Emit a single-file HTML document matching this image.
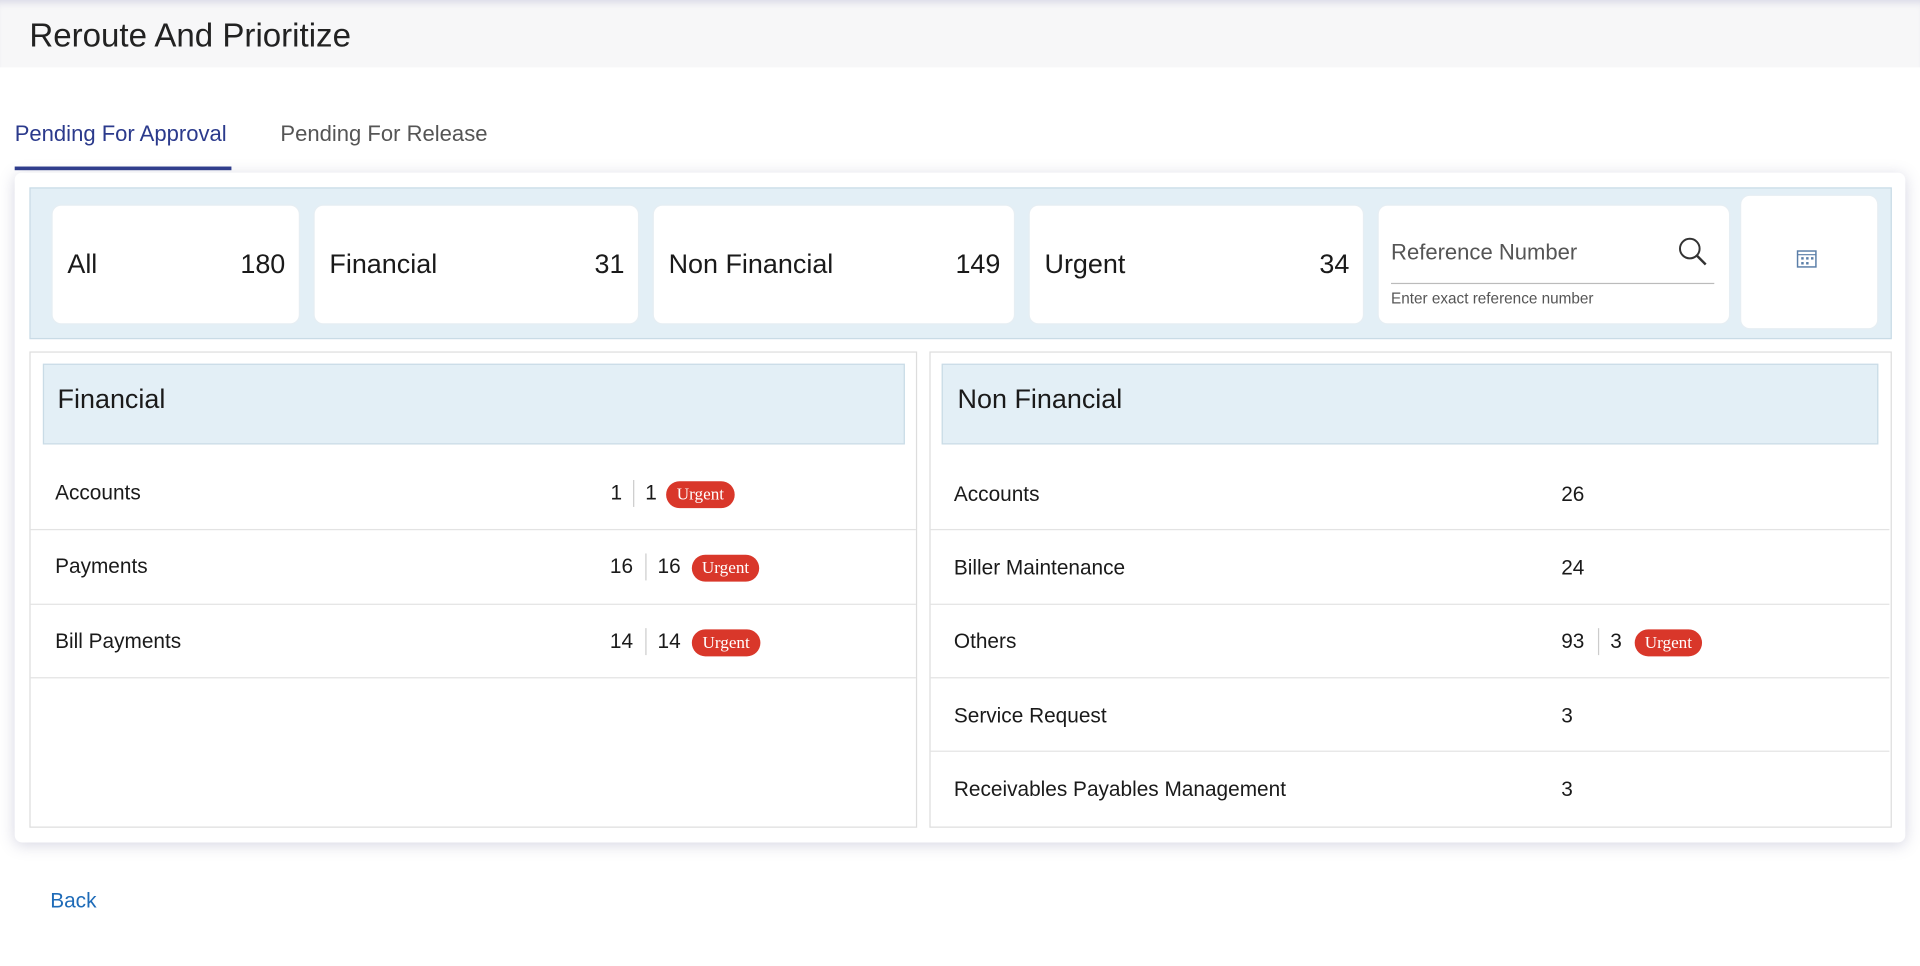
<!DOCTYPE html>
<html><head><meta charset="utf-8"><style>
html,body{margin:0;padding:0;background:#fff;overflow:hidden;width:1920px;height:966px}
#w{position:absolute;left:0;top:0;width:1568px;height:789px;transform:scale(1.22449);transform-origin:0 0;font-family:"Liberation Sans",sans-serif;color:#1a1a1a}
.a{position:absolute}
.hdr{left:0;top:0;width:1568px;height:55px;background:#f7f7f8;box-shadow:inset 0 6px 6px -4px #d8d8e6}
.title{left:24px;top:14px;font-size:27px;color:#222}
.tab{top:99px;font-size:18px}
.card{left:12px;top:141px;width:1544px;height:547px;background:#fff;border-radius:6px;box-shadow:0 2px 12px rgba(90,90,140,.25)}
.strip{left:24px;top:153px;width:1519px;height:122px;background:#e3eff6;border:1px solid #c9dbe6}
.box{background:#fff;border-radius:8px;border:1px solid #e6eef3;font-size:22px}
.box .l{position:absolute;left:12px;top:35px}
.box .n{position:absolute;right:11px;top:35px}
.pan{background:#fff;border:1px solid #ddd}
.ph{background:#e3eff6;border:1px solid #c9dbe6;font-size:22px}
.row{font-size:17px}
.line{height:1px;background:#e3e3e3}
.sep{width:1px;height:22px;background:#ccc}
.bdg{height:22px;border-radius:11px;background:#d9372a;color:#fff;font-family:"Liberation Serif",serif;font-size:14px;line-height:24px;text-align:center}
</style></head><body><div id="w">
<div class="a hdr"></div>
<div class="a title">Reroute And Prioritize</div>
<div class="a tab" style="left:12px;color:#2b3a8c">Pending For Approval</div>
<div class="a" style="left:12px;top:136px;width:177px;height:3px;background:#2e3c8c"></div>
<div class="a tab" style="left:229px;color:#555">Pending For Release</div>
<div class="a card"></div>
<div class="a strip"></div>
<div class="a box" style="left:42px;top:167px;width:201px;height:96px"><span class="l">All</span><span class="n">180</span></div>
<div class="a box" style="left:256px;top:167px;width:264px;height:96px"><span class="l">Financial</span><span class="n">31</span></div>
<div class="a box" style="left:533px;top:167px;width:294px;height:96px"><span class="l">Non Financial</span><span class="n">149</span></div>
<div class="a box" style="left:840px;top:167px;width:272px;height:96px"><span class="l">Urgent</span><span class="n">34</span></div>
<div class="a box" style="left:1125px;top:167px;width:286px;height:96px"></div>
<div class="a" style="left:1136px;top:196px;font-size:18px;color:#555">Reference Number</div>
<svg class="a" style="left:1370px;top:193px" width="26" height="26"><circle cx="10" cy="10" r="8" fill="none" stroke="#333" stroke-width="1.6"/><line x1="16" y1="16" x2="23" y2="23" stroke="#333" stroke-width="2"/></svg>
<div class="a" style="left:1136px;top:231px;width:264px;height:1px;background:#bbb"></div>
<div class="a" style="left:1136px;top:237px;font-size:12.5px;color:#555">Enter exact reference number</div>
<div class="a box" style="left:1421px;top:159px;width:111px;height:108px"></div>
<svg class="a" style="left:1467px;top:203px" width="18" height="17"><rect x="1" y="2" width="15" height="13" fill="none" stroke="#5a7ea8" stroke-width="1.2"/><line x1="1" y1="5" x2="16" y2="5" stroke="#5a7ea8"/><g fill="#5a7ea8"><rect x="4" y="7" width="2" height="2"/><rect x="8" y="7" width="2" height="2"/><rect x="12" y="7" width="2" height="2"/><rect x="4" y="11" width="2" height="2"/><rect x="8" y="11" width="2" height="2"/></g></svg>

<div class="a pan" style="left:24px;top:287px;width:723px;height:387px"></div>
<div class="a ph" style="left:35px;top:297px;width:702px;height:64px"></div>
<div class="a" style="left:47px;top:313px;font-size:22px">Financial</div>
<div class="a line" style="left:25px;top:432px;width:723px"></div>
<div class="a line" style="left:25px;top:493px;width:723px"></div>
<div class="a line" style="left:25px;top:553px;width:723px"></div>
<div class="a row" style="left:45px;top:393px">Accounts</div>
<div class="a row" style="left:460px;width:48px;text-align:right;top:393px">1</div>
<div class="a sep" style="left:517px;top:392px"></div>
<div class="a row" style="left:527px;top:393px">1</div>
<div class="a bdg" style="left:544px;top:393px;width:56px">Urgent</div>
<div class="a row" style="left:45px;top:453px">Payments</div>
<div class="a row" style="left:460px;width:57px;text-align:right;top:453px">16</div>
<div class="a sep" style="left:527px;top:452px"></div>
<div class="a row" style="left:537px;top:453px">16</div>
<div class="a bdg" style="left:565px;top:453px;width:55px">Urgent</div>
<div class="a row" style="left:45px;top:514px">Bill Payments</div>
<div class="a row" style="left:460px;width:57px;text-align:right;top:514px">14</div>
<div class="a sep" style="left:527px;top:513px"></div>
<div class="a row" style="left:537px;top:514px">14</div>
<div class="a bdg" style="left:565px;top:514px;width:56px">Urgent</div>

<div class="a pan" style="left:759px;top:287px;width:784px;height:387px"></div>
<div class="a ph" style="left:769px;top:297px;width:763px;height:64px"></div>
<div class="a" style="left:782px;top:313px;font-size:22px">Non Financial</div>
<div class="a line" style="left:760px;top:432px;width:783px"></div>
<div class="a line" style="left:760px;top:493px;width:783px"></div>
<div class="a line" style="left:760px;top:553px;width:783px"></div>
<div class="a line" style="left:760px;top:613px;width:783px"></div>
<div class="a row" style="left:779px;top:394px">Accounts</div>
<div class="a row" style="left:1275px;top:394px">26</div>
<div class="a row" style="left:779px;top:454px">Biller Maintenance</div>
<div class="a row" style="left:1275px;top:454px">24</div>
<div class="a row" style="left:779px;top:514px">Others</div>
<div class="a row" style="left:1275px;top:514px">93</div>
<div class="a sep" style="left:1305px;top:513px"></div>
<div class="a row" style="left:1315px;top:514px">3</div>
<div class="a bdg" style="left:1335px;top:514px;width:55px">Urgent</div>
<div class="a row" style="left:779px;top:575px">Service Request</div>
<div class="a row" style="left:1275px;top:575px">3</div>
<div class="a row" style="left:779px;top:635px">Receivables Payables Management</div>
<div class="a row" style="left:1275px;top:635px">3</div>

<div class="a" style="left:41px;top:726px;font-size:17px;color:#1e6bb8">Back</div>
</div></body></html>
